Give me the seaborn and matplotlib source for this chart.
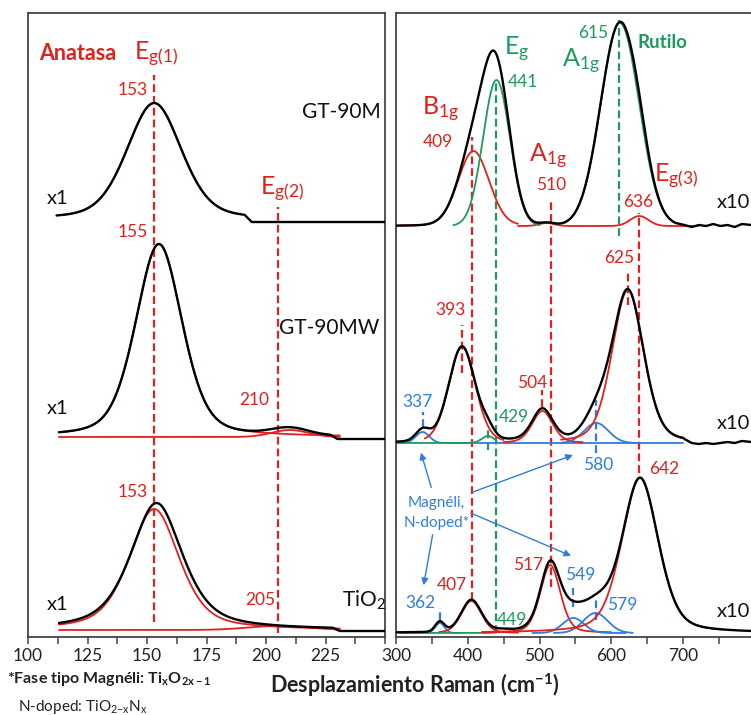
import matplotlib
matplotlib.use("Agg")
import matplotlib.pyplot as plt
from matplotlib.ticker import MultipleLocator
import seaborn as sns
import numpy as np

sns.set_theme(style="ticks")
plt.rcParams["font.family"] = ["Lato", "DejaVu Sans"]
plt.rcParams["mathtext.fontset"] = "custom"
plt.rcParams["mathtext.rm"] = "Lato"
plt.rcParams["mathtext.it"] = "Lato:italic"
plt.rcParams["mathtext.bf"] = "Lato:bold"

# phase -> colour (A = anatasa, R = rutilo, M = Magneli / N-doped)
PHASE_COLORS = {"A": "#e0211d", "R": "#1f9a5e", "M": "#2f7de1"}
RED, GREEN, BLUE = PHASE_COLORS["A"], PHASE_COLORS["R"], PHASE_COLORS["M"]

samples = ["GT-90M", "GT-90MW", "TiO$_2$"]

# vertical offset of each stacked spectrum (arb. units, top -> bottom)
low_baseline = [418, 200, 7]
high_baseline = [411, 194, 4]

# fitted bands: (phase, centre cm-1, height, FWHM, Lorentz fraction, fit from, fit to)
gt90m_low = [("A", 153, 116, 27, 0.3, 113, 189)]
gt90mw_low = [("A", 155, 193, 23, 0.35, 113, 231), ("A", 210, 7, 18, 0.0, 113, 231)]
tio2_low = [("A", 153, 121, 25, 0.5, 113, 231), ("A", 205, 4, 30, 0.0, 113, 231)]

gt90m_high = [("A", 408, 75, 51, 0.1, 300, 470), ("A", 510, 3, 25, 0.0, 470, 560),
              ("R", 440, 146, 44, 0.0, 380, 500), ("R", 612, 203, 63, 0.0, 535, 690),
              ("A", 639, 10, 30, 0.0, 560, 721)]
gt90mw_high = [("M", 337, 11, 22, 0.0, 300, 700), ("A", 392, 96, 44, 0.2, 340, 450),
               ("R", 428, 7, 20, 0.0, 300, 440), ("A", 504, 32, 34, 0.3, 450, 560),
               ("M", 579, 20, 40, 0.0, 530, 640), ("A", 623, 153, 52, 0.3, 530, 700)]
tio2_high = [("M", 361, 10, 15, 0.0, 340, 390), ("A", 405, 32, 33, 0.2, 360, 470),
             ("R", 449, 1, 20, 0.0, 305, 440), ("A", 515, 68, 33, 0.3, 420, 600),
             ("M", 547, 15, 35, 0.0, 490, 620), ("M", 578, 20, 40, 0.0, 520, 630),
             ("A", 640, 155, 60, 0.35, 420, 755)]

# measured (black) envelope for the low-wavenumber spectra, where it differs from the fit
tio2_low_measured = [(154, 127, 26, 0.6)]
low_measured_range = [(112, 191), (113, 227), (113, 228)]
low_tail_level = [-3, -2, -1]

high_measured_end = [690, 700, 795]
tail_x = [690, 702, 712, 722, 732, 742, 752, 762, 772, 782, 795]
gt90m_tail = [0, 1, -1, 1, 0, 2, 0, 1, -1, 2, 1]
gt90mw_tail = [0, 4, 0, -1, 0, -1, 0, 1, 0, 2, 1]

# marker lines: (position, from, to, phase)
low_marks = [(153, 15, 562, "A"), (205, 4, 430, "A")]
high_marks = [(406, 37, 500, "A"), (439, 4, 554, "R"), (516, 50, 437, "A"),
              (611, 401, 617, "R"), (639, 164, 424, "A"),
              (392, 264, 312, "A"), (337, 210, 225, "M"), (428, 187, 207, "R"),
              (504, 230, 247, "A"), (623, 332, 367, "A"), (579, 184, 237, "M"),
              (361, 17, 29, "M"), (547, 30, 49, "M"), (578, 17, 37, "M")]


def band(x, c, h, w, eta):
    g = np.exp(-4 * np.log(2) * ((x - c) / w) ** 2)
    lor = 1 / (1 + 4 * ((x - c) / w) ** 2)
    return h * (eta * lor + (1 - eta) * g)


fig = plt.figure(figsize=(7.51, 7.15), dpi=100)
ax_l = fig.add_axes([0.0373, 0.1091, 0.4754, 0.8727])
ax_r = fig.add_axes([0.5273, 0.1091, 0.474, 0.8727])


def draw_fit(ax, comps, base):
    for ph, c, h, w, eta, lo, hi in comps:
        x = np.linspace(lo, hi, 300)
        sns.lineplot(x=x, y=base + band(x, c, h, w, eta), ax=ax, color=PHASE_COLORS[ph],
                     lw=1.3, sort=False, zorder=2)


# ---- low wavenumber panel ----
for i, comps in enumerate([gt90m_low, gt90mw_low, tio2_low]):
    base = low_baseline[i]
    draw_fit(ax_l, comps, base)
    lo, hi = low_measured_range[i]
    x = np.linspace(lo, hi, 400)
    peaks = tio2_low_measured if i == 2 else [p[1:5] for p in comps]
    y = base + sum(band(x, *p) for p in peaks)
    lvl = base + low_tail_level[i]
    sns.lineplot(x=np.append(x, [hi + 3, 251]), y=np.append(y, [lvl, lvl]), ax=ax_l,
                 color="black", lw=1.7, sort=False, zorder=3)

for xm, y0, y1, ph in low_marks:
    ax_l.vlines(xm, y0, y1, colors=PHASE_COLORS[ph], linestyles=(0, (3.5, 1.8)), lw=1.6, zorder=1.5)

# ---- high wavenumber panel ----
for i, comps in enumerate([gt90m_high, gt90mw_high, tio2_high]):
    base = high_baseline[i]
    draw_fit(ax_r, comps, base)
    x = np.linspace(300, high_measured_end[i], 600)
    y = base + sum(band(x, *p[1:5]) for p in comps)
    if i < 2:
        tail = [gt90m_tail, gt90mw_tail][i]
        x = np.append(x, tail_x[1:])
        y = np.append(y, [base + t for t in tail[1:]])
    sns.lineplot(x=x, y=y, ax=ax_r, color="black", lw=1.7, sort=False, zorder=3)

for xm, y0, y1, ph in high_marks:
    ax_r.vlines(xm, y0, y1, colors=PHASE_COLORS[ph], linestyles=(0, (3.5, 1.8)), lw=1.6, zorder=1.5)

# ---- axes styling ----
for ax in (ax_l, ax_r):
    ax.set_ylim(0, 624)
    ax.set_yticks([])
    ax.set_xlabel("")
    ax.set_ylabel("")
    for s in ax.spines.values():
        s.set_visible(True)
        s.set_color("#454545")
        s.set_linewidth(1.3)
    ax.tick_params(axis="x", which="both", direction="out", length=5, width=1.1,
                   color="#454545", labelsize=12.5, labelcolor="#222222", pad=3)

ax_l.set_xlim(100, 250)
ax_l.set_xticks([100, 125, 150, 175, 200, 225])
ax_l.xaxis.set_minor_locator(MultipleLocator(12.5))
ax_r.set_xlim(300, 796)
ax_r.set_xticks([300, 400, 500, 600, 700])
ax_r.xaxis.set_minor_locator(MultipleLocator(50))

# ---- labels, low panel ----
ax_l.text(121, 584, "Anatasa", color=RED, fontsize=15.5, fontweight="bold", ha="center", va="center")
ax_l.text(154, 577, r"$\mathrm{E_{g(1)}}$", color=RED, fontsize=18, ha="center", va="baseline")
ax_l.text(207, 442, r"$\mathrm{E_{g(2)}}$", color=RED, fontsize=18, ha="center", va="baseline")
for xt, yt, s in [(144, 547, "153"), (144, 405, "155"), (195, 237, "210"),
                  (144, 145, "153"), (197.6, 37, "205")]:
    ax_l.text(xt, yt, s, color=RED, fontsize=12.5, ha="center", va="center")
for yt, s, xt in [(525, "GT-90M", 231.5), (309, "GT-90MW", 226.5), (37, "TiO$_2$", 241)]:
    ax_l.text(xt, yt, s, color="#111111", fontsize=15, ha="center", va="center")
for yt in [439, 229, 32]:
    ax_l.text(112.6, yt, "x1", color="#111111", fontsize=14.5, ha="center", va="center")

# ---- labels, high panel ----
ax_r.text(467.8, 582, r"$\mathrm{E_g}$", color=GREEN, fontsize=18, ha="center", va="baseline")
ax_r.text(557.3, 570, r"$\mathrm{A_{1g}}$", color=GREEN, fontsize=18, ha="center", va="baseline")
ax_r.text(670.6, 595, "Rutilo", color=GREEN, fontsize=13.5, fontweight="bold", ha="center", va="center")
ax_r.text(361.5, 522, r"$\mathrm{B_{1g}}$", color=RED, fontsize=18, ha="center", va="baseline")
ax_r.text(511.9, 475, r"$\mathrm{A_{1g}}$", color=RED, fontsize=18, ha="center", va="baseline")
ax_r.text(690.9, 455, r"$\mathrm{E_{g(3)}}$", color=RED, fontsize=18, ha="center", va="baseline")

high_labels = [(476.2, 555, "441", "R"), (574.1, 604, "615", "R"), (358.7, 495, "409", "A"),
               (515.4, 452, "510", "A"), (637.1, 435, "636", "A"),
               (329.4, 235, "337", "M"), (375.5, 327, "393", "A"), (463.6, 220, "429", "R"),
               (490.2, 254, "504", "A"), (610.5, 379, "625", "A"), (581.1, 172, "580", "M"),
               (333.6, 34, "362", "M"), (378.3, 52, "407", "A"), (462.2, 17, "449", "R"),
               (484.6, 72, "517", "A"), (557.3, 62, "549", "M"), (614.7, 32, "579", "M"),
               (673.4, 168, "642", "A")]
for xt, yt, s, ph in high_labels:
    ax_r.text(xt, yt, s, color=PHASE_COLORS[ph], fontsize=12.5, ha="center", va="center")
for yt in [435, 214, 25]:
    ax_r.text(769.9, yt, "x10", color="#111111", fontsize=14.5, ha="center", va="center")

ax_r.text(356, 124, "Magnéli,\nN-doped*", color=BLUE, fontsize=11, ha="center", va="center",
          linespacing=1.5)
for (x0, y0), (x1, y1) in [((350.3, 147), (333.6, 187)), ((403.5, 144), (550.3, 183)),
                           ((400.7, 125), (547.6, 80)), ((351.7, 105), (337.8, 49))]:
    ax_r.annotate("", xy=(x1, y1), xytext=(x0, y0),
                  arrowprops=dict(arrowstyle="-|>", color=BLUE, lw=1.0, mutation_scale=10))

# ---- figure texts ----
fig.text(0.5526, 0.042, r"Desplazamiento Raman (cm$^{\mathbf{-1}}$)", fontsize=15.5,
         fontweight="bold", color="#222222", ha="center", va="center")
fig.text(0.009, 0.0503, r"*Fase tipo Magnéli: $\mathbf{Ti_xO_{2x-1}}$", fontsize=11.5,
         fontweight="bold", color="#222222", ha="left", va="center")
fig.text(0.024, 0.011, r"N-doped: TiO$_{2\mathrm{-x}}$N$_\mathrm{x}$", fontsize=11,
         color="#222222", ha="left", va="center")

fig.savefig("out.png", dpi=100)
